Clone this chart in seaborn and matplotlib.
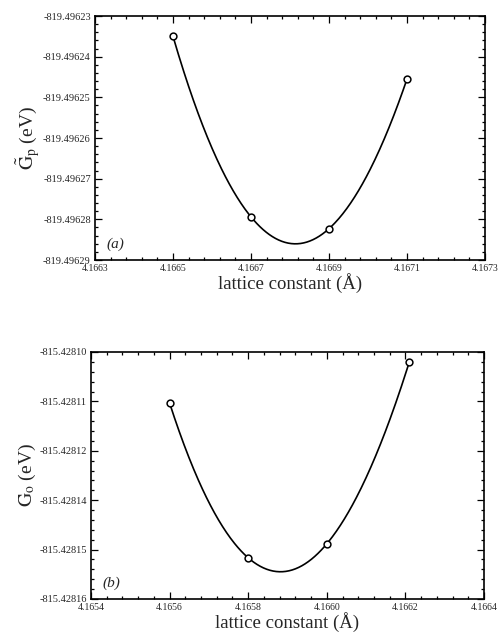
import numpy as np
import pandas as pd
import matplotlib
matplotlib.use("Agg")
import matplotlib.pyplot as plt
from matplotlib.ticker import AutoMinorLocator, FixedLocator
import seaborn as sns

sns.set_theme(style="ticks")
plt.rcParams['font.family'] = ['Liberation Serif', 'DejaVu Serif']
plt.rcParams['mathtext.fontset'] = 'stix'

# Panel (a)
a_x = [4.1665, 4.1667, 4.1669, 4.1671]
a_y = [-819.496235, -819.4962794, -819.4962823, -819.4962455]
a_xticks = [4.1663, 4.1665, 4.1667, 4.1669, 4.1671, 4.1673]
a_xticklabels = ["4.1663", "4.1665", "4.1667", "4.1669", "4.1671", "4.1673"]
a_yticklabels = ["-819.49623", "-819.49624", "-819.49625", "-819.49626",
                 "-819.49627", "-819.49628", "-819.49629"]

# Panel (b)
b_x = [4.1656, 4.1658, 4.1660, 4.16621]
b_y = [-815.4281124, -815.4281500, -815.4281466, -815.4281024]
b_xticks = [4.1654, 4.1656, 4.1658, 4.1660, 4.1662, 4.1664]
b_xticklabels = ["4.1654", "4.1656", "4.1658", "4.1660", "4.1662", "4.1664"]
b_yticklabels = ["-815.42810", "-815.42811", "-815.42812", "-815.42814",
                 "-815.42815", "-815.42816"]

fig = plt.figure(figsize=(4.99, 6.39), dpi=100)
W, H = 499, 639
ax1 = fig.add_axes([95 / W, 1 - 260 / H, (485 - 95) / W, (260 - 16) / H])
ax2 = fig.add_axes([91 / W, 1 - 599 / H, (484 - 91) / W, (599 - 352) / H])


def draw(ax, xs, ys, xticks, xtl, ytl, ylo, yhi, ylabel, tag):
    xs = np.asarray(xs)
    ys = np.asarray(ys)
    y0 = ys.mean()
    coef = np.polyfit(xs - xs.mean(), ys - y0, 3)
    xf = np.linspace(xs.min(), xs.max(), 300)
    yf = np.polyval(coef, xf - xs.mean()) + y0
    sns.lineplot(x=xf, y=yf, ax=ax, color="black", lw=1.2, sort=False)
    sns.scatterplot(x=xs, y=ys, ax=ax, marker="o", s=24, facecolor="white",
                    edgecolor="black", linewidth=1.1, zorder=5)
    ax.set_xlim(xticks[0], xticks[-1])
    ax.set_ylim(ylo, yhi)
    ax.set_xticks(xticks)
    ax.set_xticklabels(xtl, fontsize=7)
    yt = np.linspace(yhi, ylo, len(ytl))
    ax.yaxis.set_major_locator(FixedLocator(yt))
    ax.set_yticklabels(ytl, fontsize=7.5)
    ax.xaxis.set_minor_locator(AutoMinorLocator(5))
    ax.yaxis.set_minor_locator(AutoMinorLocator(5))
    ax.tick_params(which="both", direction="in", top=True, right=True,
                   color="black", width=0.9)
    ax.tick_params(which="major", length=5, pad=3)
    ax.tick_params(which="minor", length=2.5)
    for s in ax.spines.values():
        s.set_color("black")
        s.set_linewidth(1.2)
    ax.set_xlabel("lattice constant (Å)", fontsize=13.5, labelpad=0)
    ax.set_ylabel(ylabel, fontsize=14, labelpad=1)
    ax.text(0.03, 0.05, tag, transform=ax.transAxes, fontsize=11,
            style="italic")


draw(ax1, a_x, a_y, a_xticks, a_xticklabels, a_yticklabels,
     -819.49629, -819.49623, r"$\tilde{\mathrm{G}}_{\mathrm{p}}$ (eV)", "(a)")
draw(ax2, b_x, b_y, b_xticks, b_xticklabels, b_yticklabels,
     -815.42816, -815.42810, r"$\mathrm{G}_{\mathrm{o}}$ (eV)", "(b)")

fig.savefig("out.png", dpi=100)
